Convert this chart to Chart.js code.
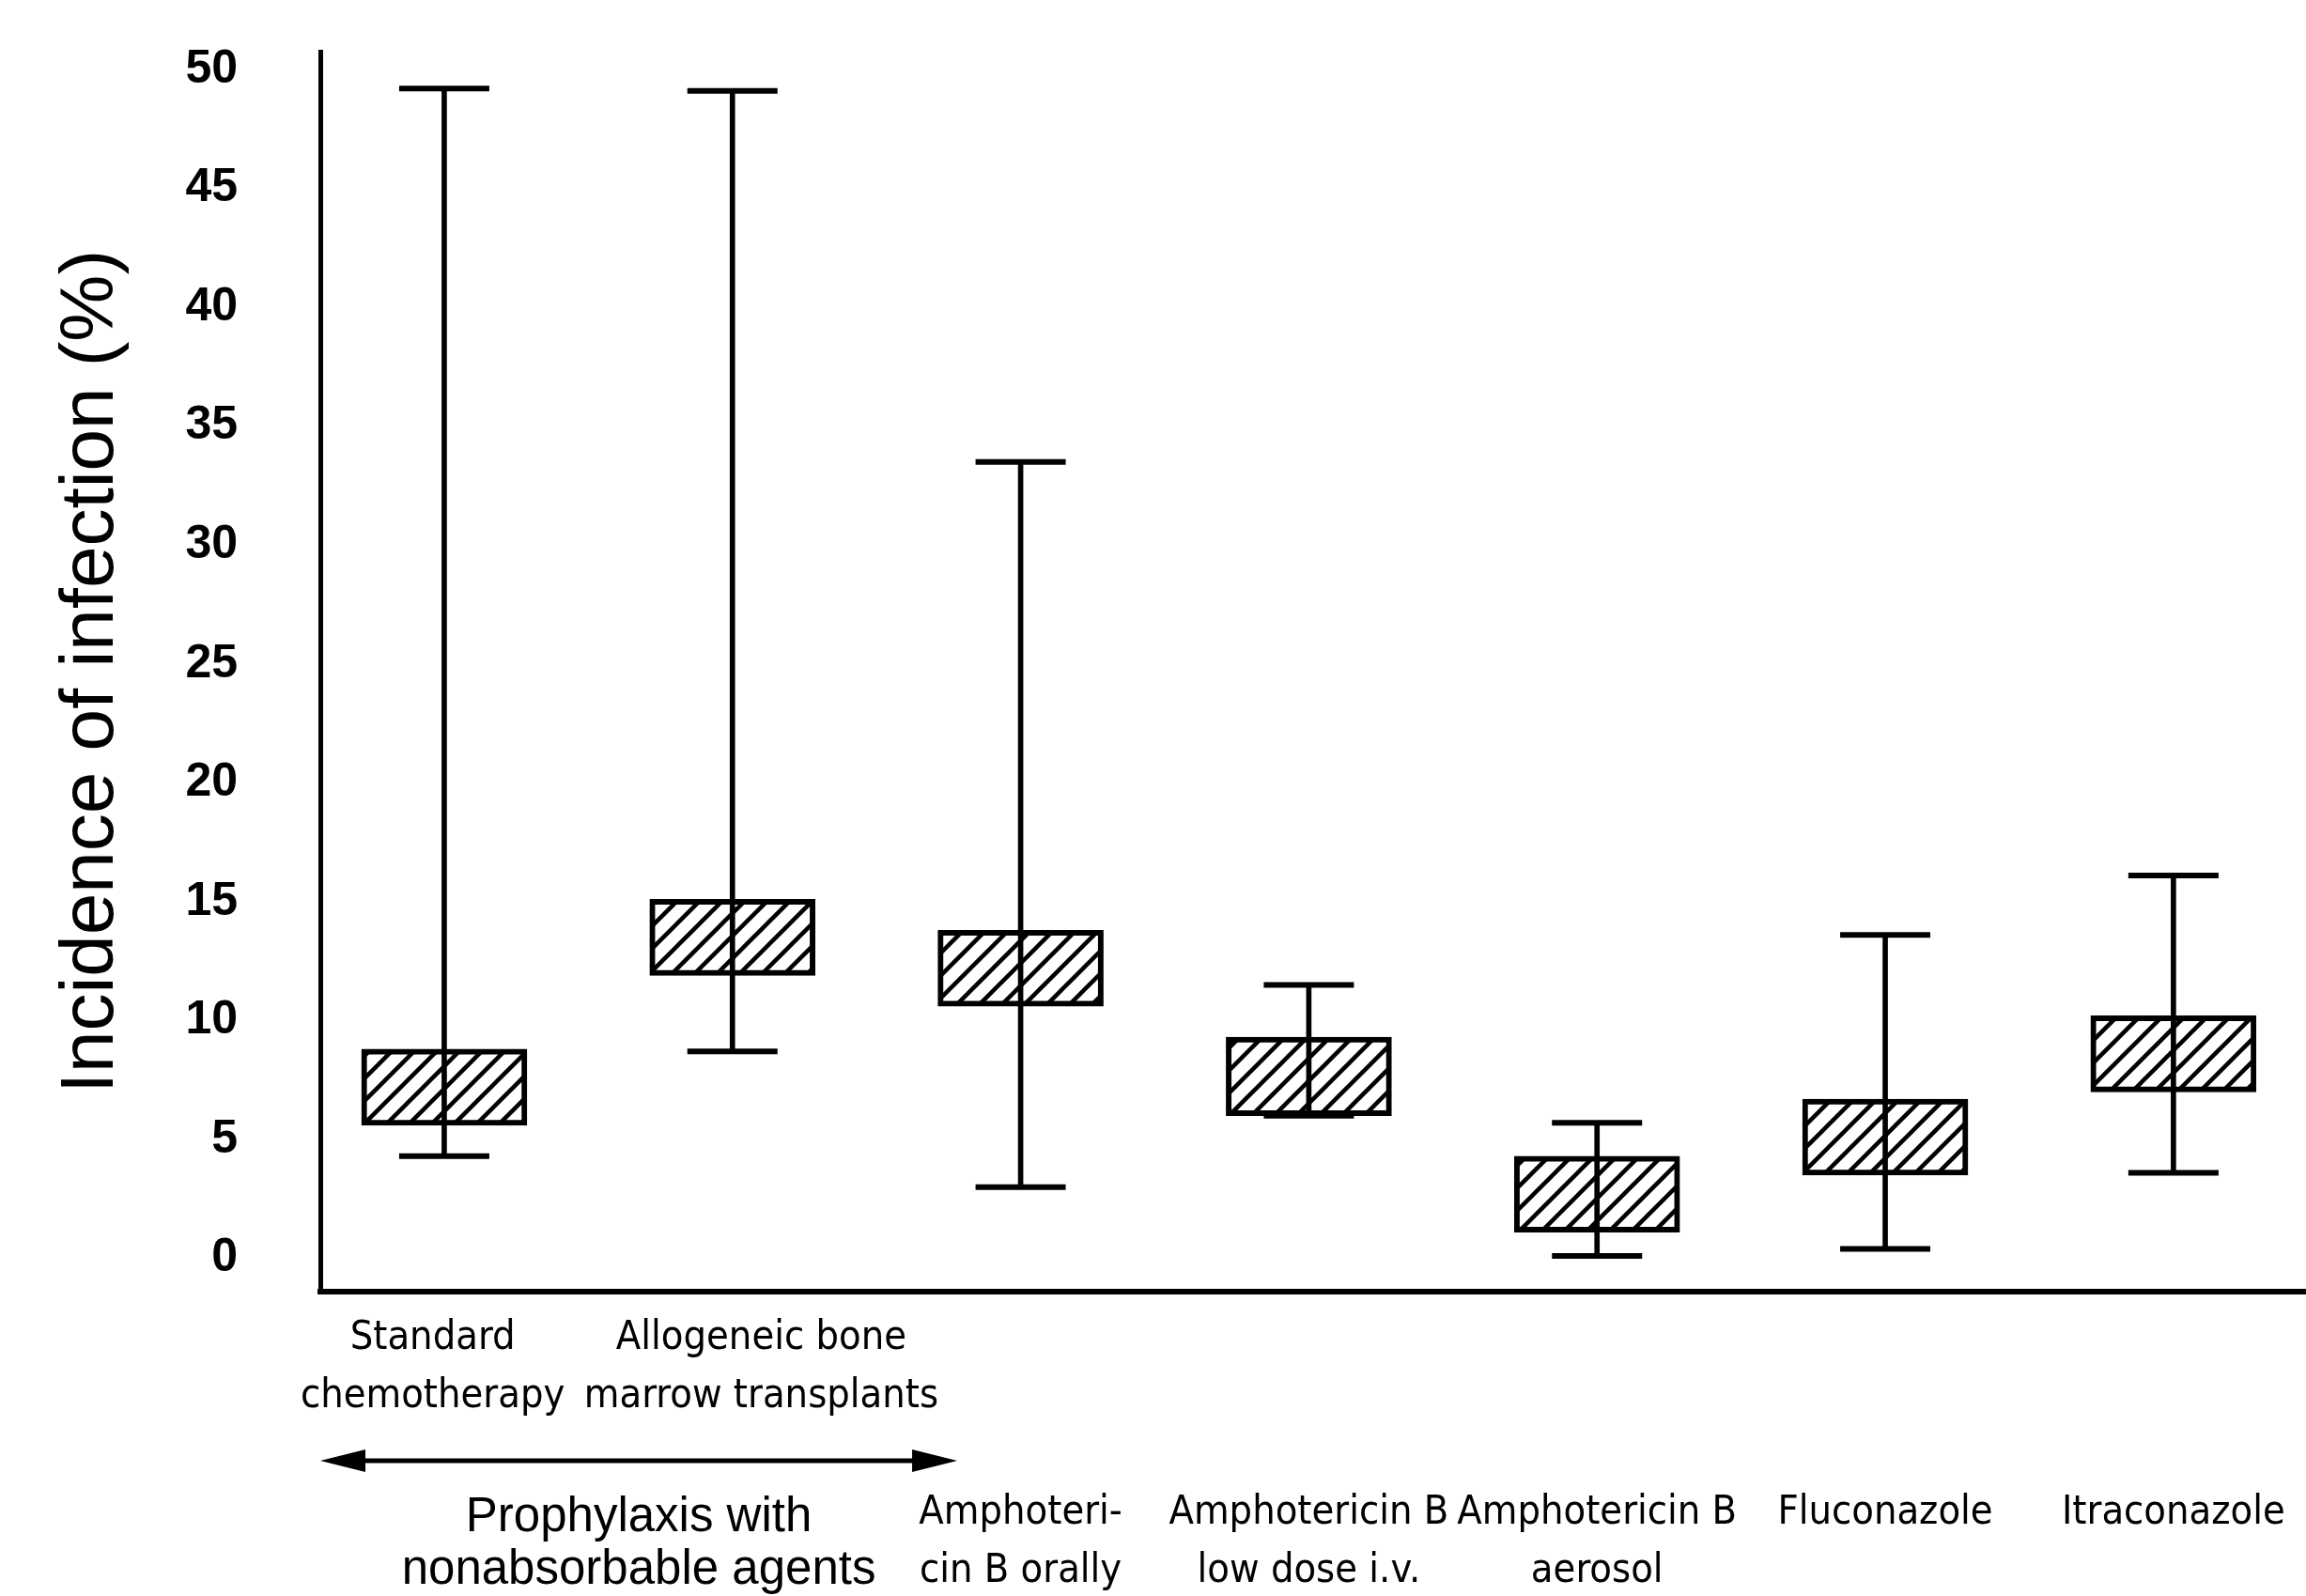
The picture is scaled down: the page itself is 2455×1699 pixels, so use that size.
<!DOCTYPE html>
<html lang="en">
<head>
<meta charset="UTF-8">
<title>Incidence of infection</title>
<script src="https://cdn.jsdelivr.net/npm/chart.js"></script>
<style>
    body { margin: 0; background: #fff; }
    .chart-container { width: 2455px; height: 1699px; }
</style>
</head>
<body>
<div class="chart-container"><canvas id="incidenceChart"></canvas></div>
<script>
// group positions on the x axis and their labels
// (padding spaces nudge the two top-row labels apart, as in the original)
const groups = [0, 1, 2, 3, 4, 5, 6];
const groupLabels = [
    ['Standard  ', 'chemotherapy  '],
    ['     Allogeneic bone', '     marrow transplants'],
    ['', '', '', 'Amphoteri-', 'cin B orally'],
    ['', '', '', 'Amphotericin B', 'low dose i.v.'],
    ['', '', '', 'Amphotericin B', 'aerosol'],
    ['', '', '', 'Fluconazole'],
    ['', '', '', 'Itraconazole']
];
const yTicks = [0, 5, 10, 15, 20, 25, 30, 35, 40, 45, 50];

// incidence of infection (%)
const whiskerHigh = [49.2, 49.1, 33.5, 11.5, 5.7, 13.6, 16.1];
const boxHigh     = [8.8, 15.1, 13.8, 9.3, 4.3, 6.7, 10.2];
const boxLow      = [5.6, 11.9, 10.6, 6.0, 1.1, 3.5, 7.0];
const whiskerLow  = [4.3, 8.7, 3.0, 6.0, 0.1, 0.4, 3.6];

const canvas = document.getElementById('incidenceChart');

// diagonal hatching for the boxes
function makeHatch(ctx) {
    const c = document.createElement('canvas');
    c.width = c.height = 24;
    const g = c.getContext('2d');
    g.fillStyle = '#fff';
    g.fillRect(0, 0, 24, 24);
    g.strokeStyle = '#000';
    g.lineWidth = 4.5;
    g.beginPath();
    g.moveTo(-6, 6); g.lineTo(6, -6);
    g.moveTo(0, 24); g.lineTo(24, 0);
    g.moveTo(18, 30); g.lineTo(30, 18);
    g.stroke();
    return ctx.createPattern(c, 'repeat');
}

// arrow + "Prophylaxis with nonabsorbable agents" under the first two groups
const prophylaxisPlugin = {
    id: 'prophylaxis',
    afterDraw(chart) {
        const ctx = chart.ctx;
        const x = chart.scales.x;
        const x0 = x.left;
        const x1 = x.getPixelForValue(1.78);
        const y = x.top + 180;
        ctx.save();
        ctx.strokeStyle = '#000';
        ctx.fillStyle = '#000';
        ctx.lineWidth = 5;
        ctx.beginPath();
        ctx.moveTo(x0 + 20, y);
        ctx.lineTo(x1 - 20, y);
        ctx.stroke();
        ctx.beginPath();
        ctx.moveTo(x0, y); ctx.lineTo(x0 + 48, y - 12); ctx.lineTo(x0 + 48, y + 12); ctx.closePath();
        ctx.fill();
        ctx.beginPath();
        ctx.moveTo(x1, y); ctx.lineTo(x1 - 48, y - 12); ctx.lineTo(x1 - 48, y + 12); ctx.closePath();
        ctx.fill();
        ctx.font = '51px "Liberation Sans", Arial, sans-serif';
        ctx.textAlign = 'center';
        ctx.textBaseline = 'middle';
        const cx = (x0 + x1) / 2;
        ctx.fillText('Prophylaxis with', cx, x.top + 241);
        ctx.fillText('nonabsorbable agents', cx, x.top + 297);
        ctx.restore();
    }
};

const narrow = "'Liberation Sans Narrow', 'DejaVu Sans Condensed', 'Liberation Sans', sans-serif";

new Chart(canvas, {
    type: 'bar',
    data: {
        datasets: [
            {
                label: 'Range',
                data: groups.map((g, i) => ({ x: g, y: [whiskerLow[i], whiskerHigh[i]] })),
                backgroundColor: '#000',
                borderWidth: 0,
                barThickness: 5,
                grouped: false,
                order: 2
            },
            {
                label: 'Box',
                data: groups.map((g, i) => ({ x: g, y: [boxLow[i], boxHigh[i]] })),
                backgroundColor: makeHatch(canvas.getContext('2d')),
                borderColor: '#000',
                borderWidth: 6,
                borderSkipped: false,
                barThickness: 176,
                grouped: false,
                order: 3
            },
            {
                type: 'line',
                label: 'Caps',
                data: groups.map((g, i) => ({ x: g, y: whiskerHigh[i] }))
                    .concat(groups.map((g, i) => ({ x: g, y: whiskerLow[i] }))),
                showLine: false,
                pointStyle: 'line',
                pointRadius: 48,
                pointBorderWidth: 6,
                pointBorderColor: '#000',
                order: 1
            }
        ]
    },
    options: {
        responsive: true,
        maintainAspectRatio: false,
        animation: false,
        layout: { autoPadding: false, padding: { top: 55, left: 0, right: 0, bottom: 0 } },
        plugins: {
            legend: { display: false },
            tooltip: { enabled: false }
        },
        scales: {
            x: {
                type: 'linear',
                offset: false,
                min: -0.43,
                max: 6.46,
                afterBuildTicks: s => { s.ticks = groups.map(v => ({ value: v })); },
                afterFit: s => { s.height = 324; },
                grid: { display: false, drawTicks: false },
                border: { display: true, color: '#000', width: 6 },
                ticks: {
                    autoSkip: false,
                    maxRotation: 0,
                    minRotation: 0,
                    padding: 19,
                    color: '#000',
                    font: { family: narrow, size: 43, lineHeight: '62px' },
                    callback: (v, i) => groupLabels[i]
                }
            },
            y: {
                min: -1.4,
                max: 50.75,
                afterBuildTicks: s => { s.ticks = yTicks.map(v => ({ value: v })); },
                afterFit: s => { s.width = 341; s.paddingTop = 0; s.paddingBottom = 0; },
                grid: { display: false, drawTicks: false },
                border: { display: true, color: '#000', width: 5 },
                ticks: {
                    padding: 88,
                    color: '#000',
                    font: { family: "'Liberation Sans', Arial, sans-serif", size: 50, weight: 'bold' }
                },
                title: {
                    display: true,
                    text: 'Incidence of infection (%)',
                    color: '#000',
                    padding: { top: 50, bottom: 0 },
                    font: { family: "'Liberation Sans', Arial, sans-serif", size: 80 }
                }
            }
        }
    },
    plugins: [prophylaxisPlugin]
});
</script>
</body>
</html>
